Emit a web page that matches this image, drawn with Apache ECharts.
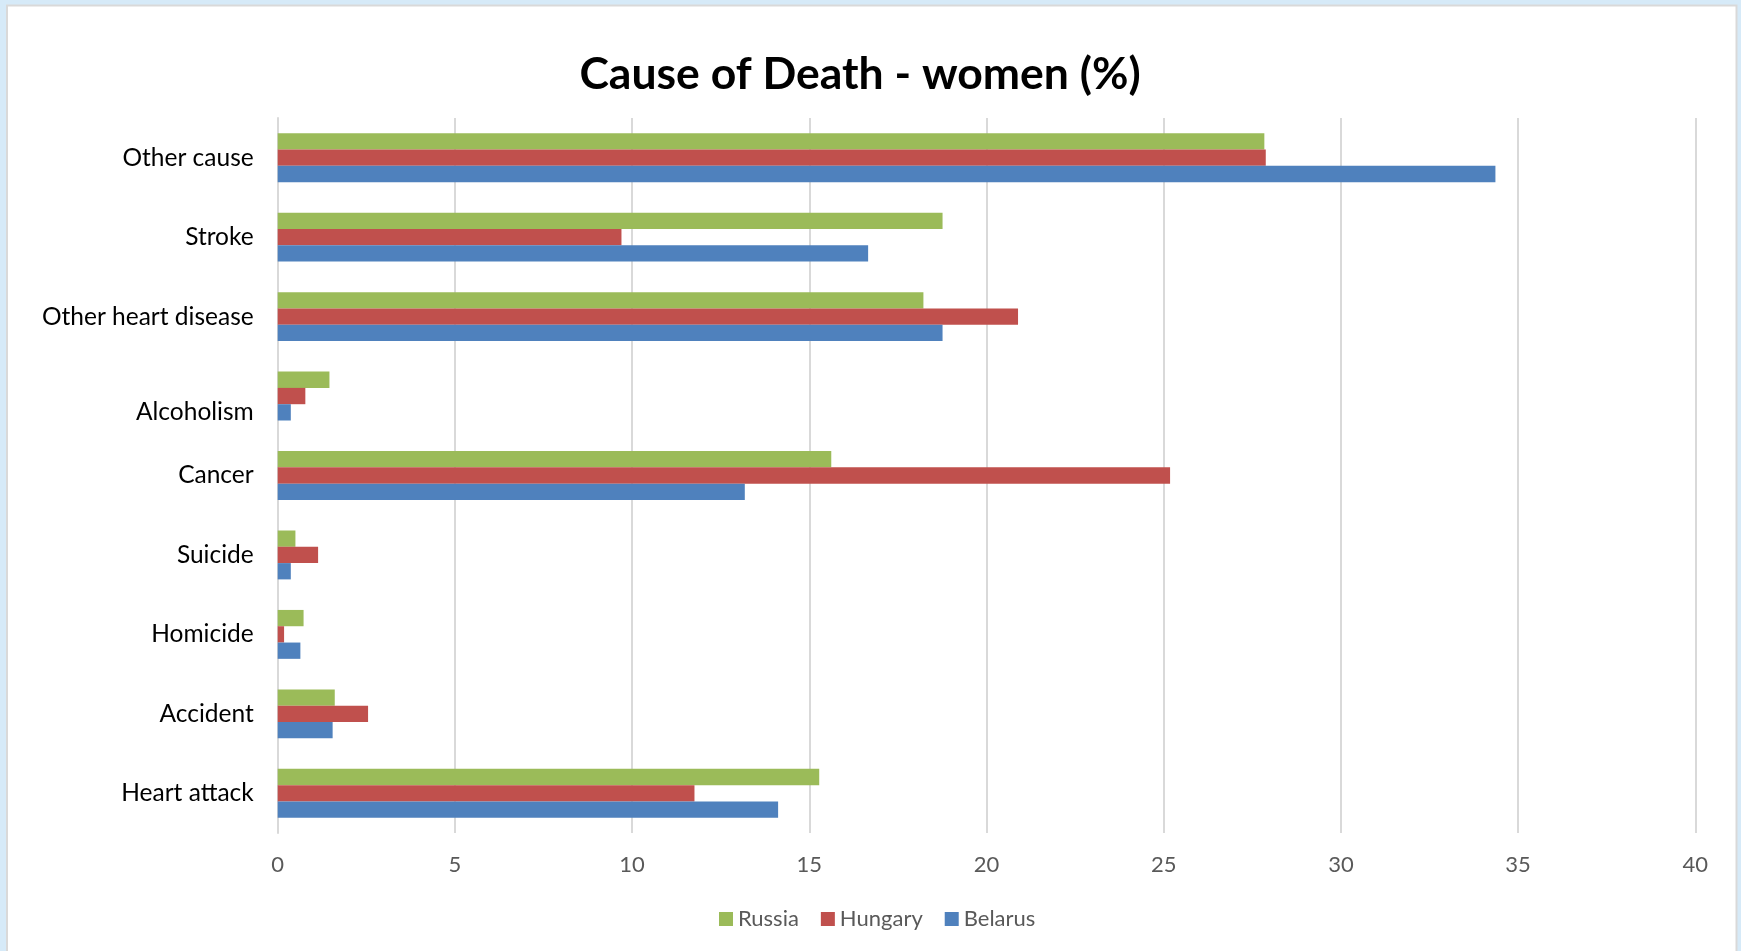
<!DOCTYPE html>
<html>
<head>
<meta charset="utf-8">
<title>Cause of Death - women (%)</title>
<script src="https://cdn.jsdelivr.net/npm/echarts@6/dist/echarts.min.js"></script>
<style>
  html, body { margin: 0; padding: 0; background: #d6eaf8; }
  #chart { position: absolute; left: 0; top: 0; width: 1741px; height: 951px; }
</style>
</head>
<body>
<div id="chart"></div>
<script>
// Causes, listed from the bottom of the chart to the top
const categories = ['Heart attack', 'Accident', 'Homicide', 'Suicide', 'Cancer',
  'Alcoholism', 'Other heart disease', 'Stroke', 'Other cause'];

// Share of deaths among women, percent
const russia  = [15.28, 1.61, 0.73, 0.50, 15.62, 1.46, 18.22, 18.76, 27.84];
const hungary = [11.76, 2.55, 0.18, 1.14, 25.18, 0.78, 20.89, 9.70, 27.88];
const belarus = [14.12, 1.55, 0.64, 0.37, 13.18, 0.37, 18.76, 16.66, 34.36];

const xTicks = { min: 0, max: 40, interval: 5 };

const FONT = 'Lato';
const chart = echarts.init(document.getElementById('chart'));

function barSeries(name, data, color) {
  return {
    name: name,
    type: 'bar',
    data: data,
    barWidth: 16.3,
    barGap: '0%',
    itemStyle: { color: color },
    emphasis: { disabled: true }
  };
}

chart.setOption({
  backgroundColor: 'transparent',
  animation: false,
  textStyle: { fontFamily: FONT },
  graphic: [{
    type: 'rect',
    z: -10,
    shape: { x: 7, y: 5.5, width: 1729.5, height: 960 },
    style: { fill: '#ffffff', stroke: '#d9d9d9', lineWidth: 2 }
  }],
  title: {
    text: 'Cause of Death - women (%)',
    left: 855,
    top: 47,
    textAlign: 'center',
    textStyle: { fontFamily: FONT, fontSize: 44.5, fontWeight: 'bold', color: '#000000' }
  },
  legend: {
    data: ['Russia', 'Hungary', 'Belarus'],
    left: 714,
    top: 903,
    itemWidth: 14,
    itemHeight: 14,
    itemGap: 22,
    icon: 'rect',
    textStyle: { fontFamily: FONT, fontSize: 22, color: '#595959' }
  },
  grid: { left: 277.7, right: 45.7, top: 118, bottom: 118, containLabel: false },
  xAxis: {
    type: 'value',
    min: xTicks.min,
    max: xTicks.max,
    interval: xTicks.interval,
    axisLine: { show: false },
    axisTick: { show: false },
    axisLabel: { color: '#595959', fontSize: 22, fontFamily: FONT, margin: 21 },
    splitLine: { lineStyle: { color: '#d9d9d9', width: 2 } }
  },
  yAxis: {
    type: 'category',
    data: categories,
    axisLine: { show: true, lineStyle: { color: '#d9d9d9', width: 2 } },
    axisTick: { show: false },
    axisLabel: {
      color: '#000000',
      fontSize: 24.5,
      fontFamily: FONT,
      margin: 24,
      formatter: function (v) {
        return v === 'Alcoholism' ? '{low|' + v + '}' : v;
      },
      rich: {
        low: { fontSize: 24.5, fontFamily: FONT, color: '#000000', padding: [32, 0, 0, 0] }
      }
    }
  },
  series: [
    barSeries('Russia', russia, '#9bbb59'),
    barSeries('Hungary', hungary, '#c0504d'),
    barSeries('Belarus', belarus, '#4f81bd')
  ]
});
</script>
</body>
</html>
